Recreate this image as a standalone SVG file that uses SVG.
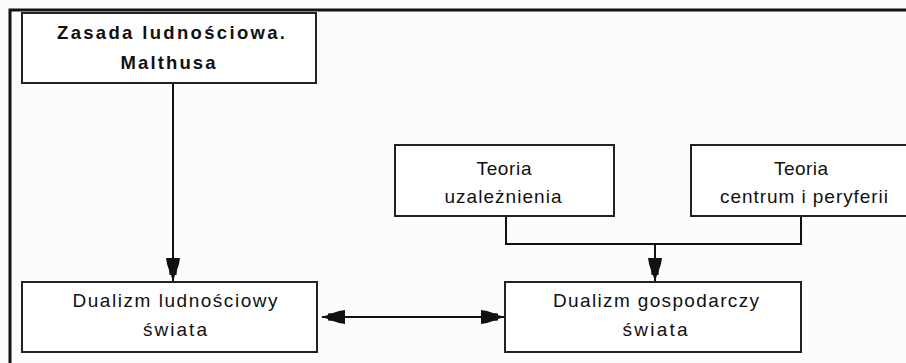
<svg xmlns="http://www.w3.org/2000/svg" width="906" height="363" viewBox="0 0 906 363">
<style>
.box{fill:#fff;stroke:#222;stroke-width:2}
.t{font-family:"Liberation Sans",Arial,sans-serif;font-size:19px;fill:#111;text-anchor:middle}
.b{font-weight:bold;font-size:18.5px}
.c{fill:none;stroke:#111;stroke-width:2}
</style>
<defs>
<marker id="ah" viewBox="0 0 24 16" refX="23" refY="8" markerWidth="24" markerHeight="16" markerUnits="userSpaceOnUse" orient="auto-start-reverse">
<path d="M0,1 L6,2 L12,4 L17,4.5 L17,6 L24,8 L17,10 L17,11.5 L12,12 L6,14 L0,15 Z" fill="#111"/>
</marker>
</defs>
<rect width="906" height="363" fill="#fcfcfc"/>
<path d="M10,363 L10,10 L906,10" fill="none" stroke="#111" stroke-width="3"/>
<g id="connectors">
<line class="c" x1="173" y1="83" x2="173" y2="281" marker-end="url(#ah)"/>
<polyline class="c" points="506,216 506,244 801,244 801,216"/>
<line class="c" x1="655" y1="244" x2="655" y2="281" marker-end="url(#ah)"/>
<line class="c" x1="322" y1="317" x2="504" y2="317" marker-start="url(#ah)" marker-end="url(#ah)"/>
</g>
<g id="malthus">
<rect class="box" x="22" y="13" width="294" height="70"/>
<text class="t b" x="171" y="39" textLength="228" lengthAdjust="spacing">Zasada ludnościowa.</text>
<text class="t b" x="168" y="69" textLength="95" lengthAdjust="spacing">Malthusa</text>
</g>
<g id="uzaleznienie">
<rect class="box" x="395" y="145" width="219" height="71"/>
<text class="t" x="504" y="175" textLength="55" lengthAdjust="spacing">Teoria</text>
<text class="t" x="503" y="203" textLength="117" lengthAdjust="spacing">uzależnienia</text>
</g>
<g id="centrum">
<rect class="box" x="691" y="145" width="230" height="71"/>
<text class="t" x="801" y="175" textLength="54" lengthAdjust="spacing">Teoria</text>
<text class="t" x="804" y="203" textLength="168" lengthAdjust="spacing">centrum i peryferii</text>
</g>
<g id="ludnosciowy">
<rect class="box" x="22" y="282" width="295" height="70"/>
<text class="t" x="175" y="307" textLength="205" lengthAdjust="spacing">Dualizm ludnościowy</text>
<text class="t" x="175" y="336" textLength="64" lengthAdjust="spacing">świata</text>
</g>
<g id="gospodarczy">
<rect class="box" x="505" y="282" width="296" height="70"/>
<text class="t" x="656" y="307" textLength="206" lengthAdjust="spacing">Dualizm gospodarczy</text>
<text class="t" x="655" y="336" textLength="65" lengthAdjust="spacing">świata</text>
</g>
</svg>
